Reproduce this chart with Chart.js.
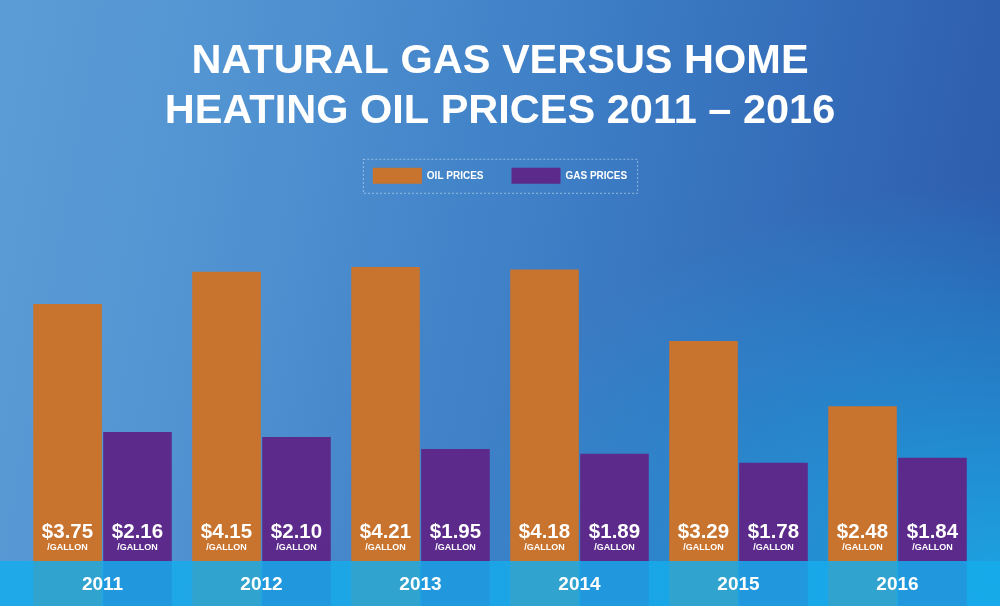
<!DOCTYPE html>
<html>
<head>
<meta charset="utf-8">
<script src="https://cdn.jsdelivr.net/npm/chart.js@4.4.1/dist/chart.umd.min.js"></script>
<style>
  html, body { margin: 0; padding: 0; }
  body {
    width: 1000px; height: 606px; overflow: hidden;
    background:
      radial-gradient(ellipse 55% 65% at 100% 95%, rgba(28,166,228,0.95) 0%, rgba(28,166,228,0) 100%),
      linear-gradient(100deg, #5c9cd6 0%, #5294d2 22%, #3c7dc5 55%, #2b58aa 100%);
  }
  #wrap { position: relative; width: 1000px; height: 606px; }
  canvas { display: block; }
</style>
</head>
<body>
<div id="wrap"><canvas id="prices" width="1000" height="606"></canvas></div>
<script>
const years = ['2011', '2012', '2013', '2014', '2015', '2016']
const oilPrices = [3.75, 4.15, 4.21, 4.18, 3.29, 2.48]
const gasPrices = [2.16, 2.10, 1.95, 1.89, 1.78, 1.84]
const unitLabel = '/GALLON'
const titleLines = ['NATURAL GAS VERSUS HOME', 'HEATING OIL PRICES 2011 \u2013 2016']

const FONT = "'Liberation Sans', Arial, sans-serif"

// dashed frame round the legend, bottom band, price and year labels
const decorations = {
  id: 'decorations',
  afterDraw(chart) {
    const ctx = chart.ctx
    const lg = chart.legend
    if (lg && lg.legendHitBoxes.length) {
      const boxes = lg.legendHitBoxes
      const first = boxes[0], last = boxes[boxes.length - 1]
      ctx.save()
      ctx.strokeStyle = 'rgba(255,255,255,0.45)'
      ctx.lineWidth = 1
      ctx.setLineDash([2, 2])
      ctx.strokeRect(first.left - 10 + 0.5, first.top - 9 + 0.5,
        last.left + last.width - first.left + 20, first.height + 18)
      ctx.restore()
    }

    const bandTop = 561
    ctx.save()
    ctx.fillStyle = 'rgba(22,172,235,0.85)'
    ctx.fillRect(0, bandTop, chart.width, chart.height - bandTop)

    ctx.fillStyle = '#ffffff'
    ctx.textAlign = 'center'
    ctx.textBaseline = 'middle'
    const sets = [oilPrices, gasPrices]
    sets.forEach((vals, di) => {
      const meta = chart.getDatasetMeta(di)
      meta.data.forEach((bar, i) => {
        ctx.font = 'bold 20.5px ' + FONT
        ctx.fillText('$' + vals[i].toFixed(2), bar.x, 532)
        ctx.font = 'bold 9px ' + FONT
        ctx.fillText(unitLabel, bar.x, 548)
      })
    })
    const x = chart.scales.x
    ctx.font = 'bold 19px ' + FONT
    years.forEach((y, i) => {
      ctx.fillText(y, x.getPixelForTick(i), 585)
    })
    ctx.restore()
  }
}

const ctx = document.getElementById('prices').getContext('2d')
const pricesChart = new Chart(ctx, {
  type: 'bar',
  data: {
    labels: years,
    datasets: [{
      label: 'OIL PRICES',
      data: oilPrices,
      backgroundColor: '#c8732e',
      borderWidth: 0
    }, {
      label: 'GAS PRICES',
      data: gasPrices,
      backgroundColor: '#5c2a8a',
      borderWidth: 0
    }]
  },
  plugins: [decorations],
  options: {
    responsive: false,
    animation: false,
    devicePixelRatio: 1,
    layout: { padding: { left: 23, right: 23, top: 0, bottom: 0 } },
    datasets: {
      bar: { categoryPercentage: 0.88, barPercentage: 0.98 }
    },
    plugins: {
      title: {
        display: true,
        text: titleLines,
        color: '#ffffff',
        font: { family: FONT, size: 41.5, weight: 'bold', lineHeight: 1.19 },
        padding: { top: 37, bottom: 4 }
      },
      legend: {
        display: true,
        position: 'top',
        labels: {
          color: '#ffffff',
          boxWidth: 49,
          boxHeight: 16,
          padding: 28,
          font: { family: FONT, size: 10, weight: 'bold' }
        }
      },
      tooltip: { enabled: false }
    },
    scales: {
      x: { display: false, grid: { display: false } },
      y: { display: false, min: 0, max: 5.12, grid: { display: false } }
    }
  }
})
</script>
</body>
</html>
